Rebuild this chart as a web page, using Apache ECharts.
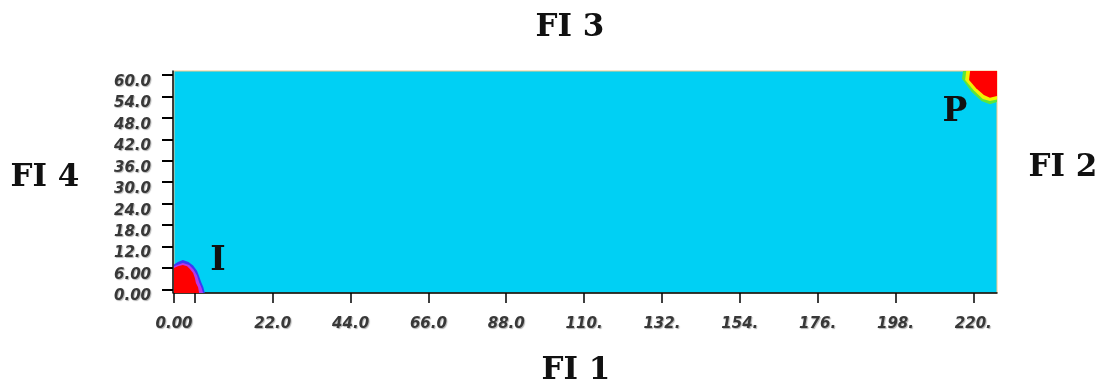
<!DOCTYPE html>
<html>
<head>
<meta charset="utf-8">
<script src="https://cdn.jsdelivr.net/npm/echarts@6/dist/echarts.min.js"></script>
<style>html,body{margin:0;padding:0;background:#fff;}#c{width:1102px;height:385px;}</style>
</head>
<body>
<div id="c"></div>
<script>
// ---- data ----
var xRange = [-5.9, 226.7];
var yRange = [-1.0, 61.1];
var xTickValues = [0, 22, 44, 66, 88, 110, 132, 154, 176, 198, 220];
var xTickLabels = ['0.00', '22.0', '44.0', '66.0', '88.0', '110.', '132.', '154.', '176.', '198.', '220.'];
var yTickValues = [0, 6, 12, 18, 24, 30, 36, 42, 48, 54, 60];
var yTickLabels = ['0.00', '6.00', '12.0', '18.0', '24.0', '30.0', '36.0', '42.0', '48.0', '54.0', '60.0'];

// region outlines (x, y) in data units, drawn in order
var regionNames = ['I-outer', 'I-mid', 'I-core', 'P-outer', 'P-mid', 'P-core'];
var regionColors = ['#3A3AF4', '#B838E8', '#FF0000', '#5CE63A', '#F2F200', '#FF0000'];
var regionI_outer = [[-5.9,-1.0],[-5.9,7.0],[-4.8,7.7],[-3.4,8.2],[-1.8,7.7],[-0.5,6.7],[0.6,5.2],[1.2,3.7],[1.8,2.0],[2.4,0.6],[2.8,-1.0]];
var regionI_mid   = [[-5.9,-1.0],[-5.9,6.5],[-3.4,7.4],[-1.6,6.8],[-0.4,5.6],[0.6,3.9],[1.2,2.0],[1.9,0.4],[2.3,-1.0]];
var regionI_core  = [[-5.9,-1.0],[-5.9,6.0],[-4.8,6.5],[-3.4,6.8],[-2.2,6.5],[-1.4,5.7],[-0.5,4.6],[0.0,3.2],[0.3,1.8],[0.9,0.6],[1.2,-1.0]];
var regionP_outer = [[217.1,61.1],[216.8,58.9],[219.5,55.3],[222.3,52.7],[224.7,51.8],[226.7,52.4],[226.7,61.1]];
var regionP_mid   = [[218.0,61.1],[217.7,58.6],[220.1,55.7],[222.7,53.3],[224.7,52.7],[226.7,53.1],[226.7,61.1]];
var regionP_core  = [[219.1,61.1],[218.8,58.6],[220.8,56.3],[223.0,54.4],[224.7,53.6],[226.7,54.1],[226.7,61.1]];
var regionPolys = [regionI_outer, regionI_mid, regionI_core, regionP_outer, regionP_mid, regionP_core];

var chart = echarts.init(document.getElementById('c'), null, {renderer: 'canvas'});

function xLabel(v) {
  if (Math.abs(v - xRange[0]) < 1e-6) return xTickLabels[0];
  var i = xTickValues.indexOf(v);
  return i >= 0 ? xTickLabels[i] : '';
}
function yLabel(v) {
  var i = yTickValues.indexOf(v);
  return i >= 0 ? yTickLabels[i] : '';
}

var tickLabelStyle = {
  fontFamily: 'DejaVu Sans',
  fontStyle: 'italic',
  fontWeight: 'bold',
  fontSize: 15,
  color: '#383838',
  textShadowColor: 'rgba(0,0,0,0.3)',
  textShadowOffsetX: 1,
  textShadowOffsetY: 1,
  textShadowBlur: 1
};

var titleFont = {fontFamily: 'DejaVu Serif', fontWeight: 'bold', fontSize: 31, fill: '#111'};

var option = {
  animation: false,
  backgroundColor: '#ffffff',
  grid: {
    left: 174, right: 105, top: 71, bottom: 92,
    show: true, backgroundColor: '#00D0F4', borderColor: '#F3C98A', borderWidth: 1
  },
  xAxis: {
    type: 'value', min: xRange[0], max: xRange[1],
    splitLine: {show: false},
    axisLine: {show: true, onZero: false, lineStyle: {color: '#000', width: 1.5}},
    axisTick: {show: true, length: 10, lineStyle: {color: '#000', width: 1.5},
      customValues: [xRange[0]].concat(xTickValues)},
    axisLabel: Object.assign({margin: 24, formatter: xLabel,
      customValues: [xRange[0]].concat(xTickValues.slice(1)), showMinLabel: true, showMaxLabel: true}, tickLabelStyle)
  },
  yAxis: {
    type: 'value', min: yRange[0], max: yRange[1], offset: 1,
    splitLine: {show: false},
    axisLine: {show: true, onZero: false, lineStyle: {color: '#000', width: 1.5}},
    axisTick: {show: true, inside: false, length: 11, lineStyle: {color: '#000', width: 2}, customValues: yTickValues},
    axisLabel: Object.assign({margin: 22, formatter: yLabel, customValues: yTickValues,
      verticalAlign: 'top', lineHeight: 14}, tickLabelStyle)
  },
  series: [{
    type: 'custom',
    coordinateSystem: 'cartesian2d',
    clip: true,
    data: regionNames.map(function (n, i) { return {name: n, value: [i]}; }),
    renderItem: function (params, api) {
      var poly = regionPolys[params.dataIndex];
      var pts = poly.map(function (p) { return api.coord(p); });
      return {
        type: 'polygon',
        shape: {points: pts},
        style: {fill: regionColors[params.dataIndex], stroke: null}
      };
    }
  }],
  graphic: [
    {type: 'text', x: 570, y: 28, style: Object.assign({text: 'FI 3', align: 'center', verticalAlign: 'middle'}, titleFont)},
    {type: 'text', x: 576, y: 371, style: Object.assign({text: 'FI 1', align: 'center', verticalAlign: 'middle'}, titleFont)},
    {type: 'text', x: 45, y: 178, style: Object.assign({text: 'FI 4', align: 'center', verticalAlign: 'middle'}, titleFont)},
    {type: 'text', x: 1063, y: 168, style: Object.assign({text: 'FI 2', align: 'center', verticalAlign: 'middle'}, titleFont)},
    {type: 'text', x: 218, y: 261, style: Object.assign({text: 'I', align: 'center', verticalAlign: 'middle'}, titleFont, {fontSize: 33})},
    {type: 'text', x: 955, y: 112, style: Object.assign({text: 'P', align: 'center', verticalAlign: 'middle'}, titleFont, {fontSize: 33})}
  ]
};
chart.setOption(option);
</script>
</body>
</html>
